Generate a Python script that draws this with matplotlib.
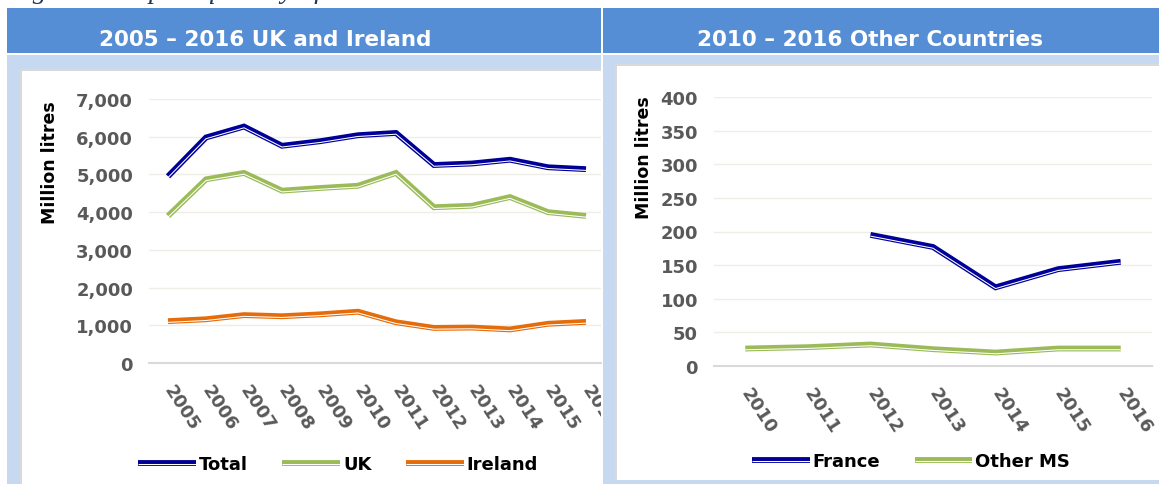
import matplotlib
matplotlib.use('Agg')
import matplotlib.pyplot as plt
import matplotlib.patheffects as pe
from matplotlib.patches import Rectangle
from matplotlib.lines import Line2D
from matplotlib.transforms import Bbox, TransformedBbox
from matplotlib.ticker import FuncFormatter

# ---- data (million litres) ----
years_left = ['2005', '2006', '2007', '2008', '2009', '2010',
              '2011', '2012', '2013', '2014', '2015', '2016']
total = [4950, 5980, 6270, 5760, 5880, 6040, 6100, 5250, 5290, 5390, 5190, 5140]
uk = [3900, 4870, 5040, 4570, 4640, 4700, 5040, 4130, 4170, 4400, 4000, 3900]
ireland = [1110, 1160, 1270, 1240, 1290, 1360, 1080, 930, 940, 890, 1040, 1090]

years_right = ['2010', '2011', '2012', '2013', '2014', '2015', '2016']
france_years = ['2012', '2013', '2014', '2015', '2016']
france = [195, 177, 117, 144, 155]
other_ms = [26, 28, 32, 25, 20, 26, 26]

NAVY = '#000099'
GREEN = '#9BBB59'
ORANGE = '#E46C0A'
HEADER = '#558ED5'
LIGHT = '#C6D9F1'
BORDER = '#D9D9D9'
TICK = '#595959'

W, H = 1159, 485
fig = plt.figure(figsize=(W / 100, H / 100), dpi=100)
fig.patch.set_facecolor('white')


def box(x0, y0, x1, y1):
    """pixel box (y from top) -> figure fraction [l, b, w, h]"""
    return [x0 / W, 1 - y1 / H, (x1 - x0) / W, (y1 - y0) / H]


def rect(x0, y0, x1, y1, color, z=-5):
    l, b, w, h = box(x0, y0, x1, y1)
    fig.add_artist(Rectangle((l, b), w, h, transform=fig.transFigure,
                             facecolor=color, edgecolor='none', zorder=z))


# panel backgrounds
rect(7, 9, 601, 54, HEADER)
rect(7, 56, 601, 485, LIGHT)
rect(20, 70, 601, 485, BORDER)
rect(22, 72, 601, 485, 'white')
rect(603, 9, W, 54, HEADER)
rect(603, 56, W, 485, LIGHT)
rect(615, 65, W, 481, BORDER)
rect(617, 67, W, 481, 'white')

# caption of the page, cut off by the top edge (only descenders show)
fig.text(8 / W, 1 + 2.5 / H, 'Figure 4: Import quantity of bioethanol',
         family='Liberation Serif', style='italic', fontsize=20,
         color='#1F3864', va='baseline', ha='left')

fig.text(265 / W, 1 - 40 / H, '2005 \u2013 2016 UK and Ireland', color='white',
         fontsize=15.5, fontweight='bold', ha='center', va='center')
fig.text(870 / W, 1 - 40 / H, '2010 \u2013 2016 Other Countries', color='white',
         fontsize=15.5, fontweight='bold', ha='center', va='center')


def double_effects(color):
    return [pe.Stroke(linewidth=4.2, foreground=color),
            pe.Stroke(linewidth=0.75, foreground='white', offset=(0, -0.9))]


def draw_series(ax, x, y, color, label):
    ax.plot(x, y, color=color, lw=4.2, solid_capstyle='butt',
            solid_joinstyle='miter', path_effects=double_effects(color),
            label=label, zorder=3)


def style_axes(ax, ymax, step, fmt):
    ax.set_facecolor('none')
    for s in ['left', 'right', 'top']:
        ax.spines[s].set_visible(False)
    ax.spines['bottom'].set_color(BORDER)
    ax.spines['bottom'].set_linewidth(1.5)
    ax.spines['bottom'].set_zorder(2)
    ax.set_ylim(0, ymax)
    ax.set_yticks(range(0, ymax + 1, step))
    ax.yaxis.set_major_formatter(FuncFormatter(fmt))
    ax.grid(axis='y', color='#EEEEE6', lw=1.0, zorder=0)
    ax.set_axisbelow(True)
    ax.tick_params(axis='both', length=0, labelcolor=TICK, labelsize=13)
    ax.tick_params(axis='y', pad=11.5)
    ax.tick_params(axis='x', pad=16.5)
    for lbl in ax.get_yticklabels():
        lbl.set_fontweight('bold')


def set_xlabels(ax, labels):
    ax.set_xticks(range(len(labels)))
    ax.set_xticklabels(labels, rotation=-57, ha='left', va='center',
                       rotation_mode='anchor', fontweight='bold')


# ---- left chart ----
axl = fig.add_axes(box(149, 100, 601, 364))
xl = range(len(years_left))
draw_series(axl, xl, total, NAVY, 'Total')
draw_series(axl, xl, uk, GREEN, 'UK')
draw_series(axl, xl, ireland, ORANGE, 'Ireland')
style_axes(axl, 7000, 1000, lambda v, p: f'{int(v):,}')
set_xlabels(axl, years_left)
axl.set_xlim(-0.5, -0.5 + (601 - 149) / 38.0)
clip = TransformedBbox(Bbox.from_extents(0, 0, 601 / W, 1), fig.transFigure)
for lbl in axl.get_xticklabels():
    lbl.set_clip_box(clip)
    lbl.set_clip_on(True)

fig.text(50 / W, 1 - 163 / H, 'Million litres', rotation=90, fontsize=12.5,
         fontweight='bold', ha='center', va='center', color='black')

# ---- right chart ----
axr = fig.add_axes(box(714, 98, 1152, 367))
draw_series(axr, [years_right.index(y) for y in france_years], france, NAVY, 'France')
draw_series(axr, range(len(years_right)), other_ms, GREEN, 'Other MS')
style_axes(axr, 400, 50, lambda v, p: f'{int(v)}')
set_xlabels(axr, years_right)
axr.set_xlim(-0.5, 6.5)

fig.text(644 / W, 1 - 158 / H, 'Million litres', rotation=90, fontsize=12.5,
         fontweight='bold', ha='center', va='center', color='black')


# ---- legends ----
def make_legend(items, cx, cy):
    handles = [Line2D([], [], color=c, lw=4.2, solid_capstyle='butt',
                      path_effects=double_effects(c)) for c, _ in items]
    leg = fig.legend(handles, [t for _, t in items], loc='center',
                     bbox_to_anchor=(cx / W, 1 - cy / H), ncol=len(items),
                     frameon=False, handlelength=3.2, handletextpad=0.17,
                     columnspacing=1.9, prop={'size': 13, 'weight': 'bold'})
    return leg


make_legend([(NAVY, 'Total'), (GREEN, 'UK'), (ORANGE, 'Ireland')], 338, 465)
make_legend([(NAVY, 'France'), (GREEN, 'Other MS')], 911, 462)

fig.savefig('out.png', dpi=100)
